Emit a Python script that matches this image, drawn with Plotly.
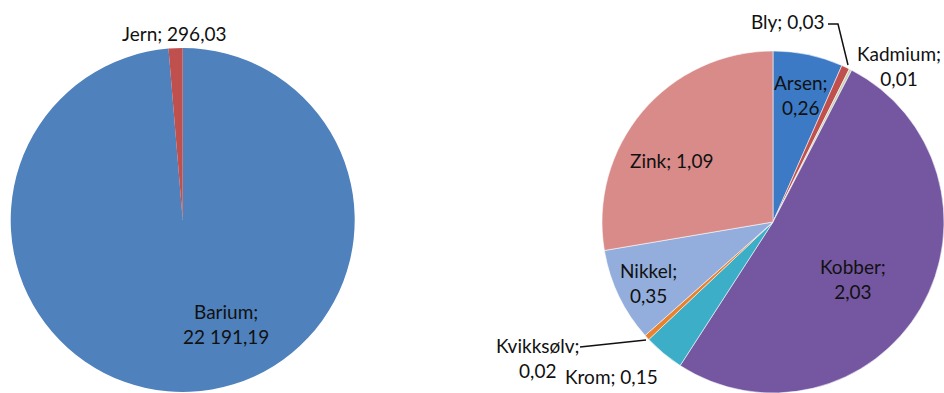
import plotly.graph_objects as go

W, H = 944, 393

# Data
left_labels = ["Barium", "Jern"]
left_values = [22191.19, 296.03]
left_colors = ["#4F81BD", "#C0504D"]

right_labels = ["Arsen", "Bly", "Kadmium", "Kobber", "Krom", "Kvikksølv", "Nikkel", "Zink"]
right_values = [0.26, 0.03, 0.01, 2.03, 0.15, 0.02, 0.35, 1.09]
right_colors = ["#3C7AC6", "#C0504D", "#C9D3B5", "#7457A0", "#3CAEC8", "#E8822E", "#93AEDC", "#D98B8A"]

# Label placement (pixel centres) and line breaks
left_label_pos = {"Barium": (226, 324, True), "Jern": (174, 33, False)}
right_label_pos = {
    "Arsen": (801, 95, True),
    "Bly": (788, 22, False),
    "Kadmium": (899, 66, True),
    "Kobber": (853, 279, True),
    "Krom": (611, 376, False),
    "Kvikksølv": (538, 358, True),
    "Nikkel": (648, 283, True),
    "Zink": (671, 160, False),
}


def fmt(v):
    s = f"{v:,.2f}"
    return s.replace(",", " ").replace(".", ",")


def px(x, y):
    return x / W, 1 - y / H


fig = go.Figure()
fig.add_trace(go.Pie(
    labels=left_labels, values=left_values, sort=False, direction="clockwise",
    rotation=0, textinfo="none", hoverinfo="label+value",
    marker=dict(colors=left_colors, line=dict(width=0)),
    domain=dict(x=[10.7 / W, 354.7 / W], y=[1 / H, 345 / H]),
    showlegend=False,
))
fig.add_trace(go.Pie(
    labels=right_labels, values=right_values, sort=False, direction="clockwise",
    rotation=0, textinfo="none", hoverinfo="label+value",
    marker=dict(colors=right_colors, line=dict(width=1, color="rgba(255,255,255,0.55)")),
    domain=dict(x=[602 / W, 1], y=[0, 342 / H]),
    showlegend=False,
))

annotations = []
for labels, values, pos in [(left_labels, left_values, left_label_pos),
                             (right_labels, right_values, right_label_pos)]:
    for name, val in zip(labels, values):
        x, y, br = pos[name]
        sep = ";<br>" if br else "; "
        ax, ay = px(x, y)
        annotations.append(dict(
            x=ax, y=ay, xref="paper", yref="paper", xanchor="center", yanchor="middle",
            text=f"{name}{sep}{fmt(val)}", showarrow=False, align="center",
            font=dict(family="Lato", size=19, color="#111111"),
        ))

# Leader lines
def path(points):
    d = ""
    for i, (x, y) in enumerate(points):
        a, b = px(x, y)
        d += ("M" if i == 0 else "L") + f"{a},{b} "
    return d

shapes = [
    dict(type="path", xref="paper", yref="paper", path=path([(828, 24), (838, 24), (848, 65)]),
         line=dict(color="#111111", width=1.5)),
    dict(type="path", xref="paper", yref="paper", path=path([(580, 347), (646, 340)]),
         line=dict(color="#111111", width=1.5)),
]

fig.update_layout(
    width=W, height=H, margin=dict(l=0, r=0, t=0, b=0),
    paper_bgcolor="white", plot_bgcolor="white",
    annotations=annotations, shapes=shapes,
)
fig.write_html("out.html")
